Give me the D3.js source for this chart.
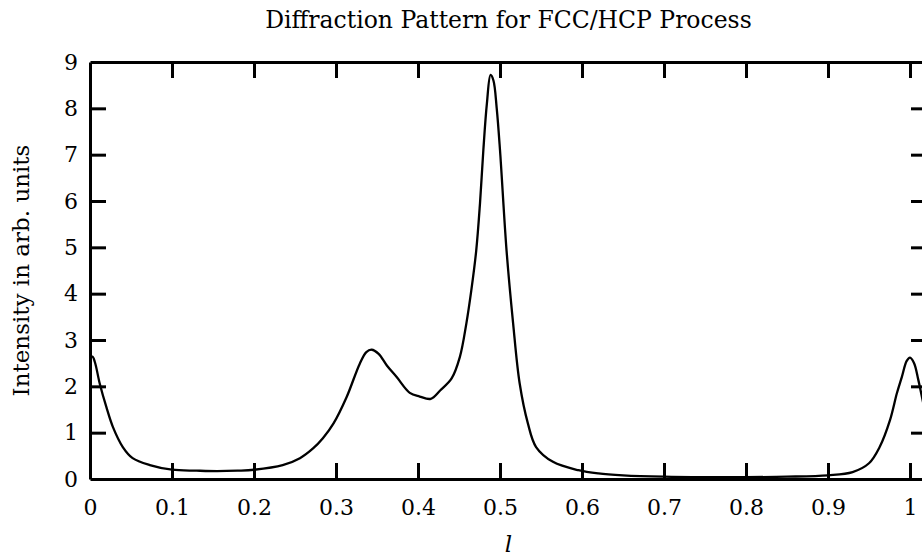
<!DOCTYPE html>
<html lang="en">
  <head>
    <meta charset="UTF-8" />
    <title>Diffraction Pattern</title>
    <style>
      body { margin: 0; background: #fff; }
      svg text { font-family: "DejaVu Serif", serif; fill: #000; }
    </style>
  </head>
  <body>
    <div id="chart"></div>

    <script src="https://d3js.org/d3.v7.min.js"></script>
    <script>

    // values: l and intensity
    var lValues = [0, 0.003, 0.006, 0.012, 0.02, 0.028, 0.04, 0.052, 0.073, 0.1,
      0.13, 0.155, 0.18, 0.2, 0.235, 0.256, 0.272, 0.284, 0.297, 0.313,
      0.329, 0.337, 0.3435, 0.352, 0.362, 0.374, 0.39, 0.402, 0.4155, 0.427,
      0.441, 0.451, 0.459, 0.465, 0.471, 0.4756, 0.4797, 0.484, 0.4885, 0.492,
      0.496, 0.5, 0.508, 0.516, 0.524, 0.534, 0.544, 0.5646, 0.5955, 0.62,
      0.65, 0.7, 0.75, 0.8, 0.85, 0.9, 0.93, 0.95, 0.963, 0.9756,
      0.984, 0.99, 0.996, 1.0, 1.005, 1.01, 1.016];
    var intensity = [2.6, 2.64, 2.52, 2.05, 1.55, 1.12, 0.69, 0.45, 0.3, 0.2,
      0.18, 0.17, 0.18, 0.2, 0.3, 0.45, 0.66, 0.88, 1.2, 1.77,
      2.49, 2.74, 2.79, 2.7, 2.45, 2.2, 1.86, 1.78, 1.73, 1.91,
      2.17, 2.63, 3.36, 4.07, 4.93, 5.95, 7.1, 8.1, 8.72, 8.6,
      8.0, 7.1, 4.93, 3.36, 2.06, 1.2, 0.69, 0.37, 0.19, 0.12,
      0.08, 0.05, 0.04, 0.04, 0.05, 0.08, 0.15, 0.34, 0.69, 1.27,
      1.85, 2.2, 2.55, 2.62, 2.5, 2.15, 1.65];

    var xTicks = [0, 0.1, 0.2, 0.3, 0.4, 0.5, 0.6, 0.7, 0.8, 0.9, 1];
    var yTicks = [0, 1, 2, 3, 4, 5, 6, 7, 8, 9];

    var title = "Diffraction Pattern for FCC/HCP Process";
    var xLabel = "l";
    var yLabel = "Intensity in arb. units";

    var w = 922, h = 558;
    // frame edges (right edge sits just outside the picture)
    var x0 = 90, x1 = 927, y0 = 62, y1 = 479;

    var data = lValues.map(function(d, i) { return { l: d, v: intensity[i] }; });

    var svg = d3.select("#chart").append("svg")
      .attr("width", w)
      .attr("height", h);

    var xScale = d3.scaleLinear()
      .domain([0, (x1 - x0) / 820])
      .range([x0, x1]);

    var yScale = d3.scaleLinear()
      .domain([0, 9])
      .range([y1, y0]);

    // curve, clipped to the frame
    svg.append("clipPath").attr("id", "clip")
      .append("rect")
      .attr("x", x0).attr("y", y0)
      .attr("width", x1 - x0).attr("height", y1 - y0);

    var line = d3.line()
      .x(function(d) { return xScale(d.l); })
      .y(function(d) { return yScale(d.v); })
      .curve(d3.curveCatmullRom.alpha(0.5));

    svg.append("path")
      .datum(data)
      .attr("clip-path", "url(#clip)")
      .attr("d", line)
      .attr("fill", "none")
      .attr("stroke", "#000")
      .attr("stroke-width", 2.3);

    var fmt = function(d) { return String(d); };

    // frame: four axes with inward ticks
    var xBottom = d3.axisBottom(xScale).tickValues(xTicks).tickFormat(fmt)
      .tickSizeInner(-16).tickSizeOuter(0).tickPadding(20);
    var xTop = d3.axisTop(xScale).tickValues(xTicks).tickFormat("")
      .tickSizeInner(-16).tickSizeOuter(0);
    var yLeft = d3.axisLeft(yScale).tickValues(yTicks).tickFormat(fmt)
      .tickSizeInner(-16).tickSizeOuter(0).tickPadding(12);
    var yRight = d3.axisRight(yScale).tickValues(yTicks).tickFormat("")
      .tickSizeInner(-16).tickSizeOuter(0);

    var gb = svg.append("g").attr("transform", "translate(0," + y1 + ")").call(xBottom);
    var gt = svg.append("g").attr("transform", "translate(0," + y0 + ")").call(xTop);
    var gl = svg.append("g").attr("transform", "translate(" + x0 + ",0)").call(yLeft);
    var gr = svg.append("g").attr("transform", "translate(" + x1 + ",0)").call(yRight);

    [gb, gt, gl, gr].forEach(function(g) {
      g.select(".domain").attr("stroke", "#000").attr("stroke-width", 3);
      g.selectAll(".tick line").attr("stroke", "#000").attr("stroke-width", 3);
      g.selectAll(".tick text")
        .style("font-family", "'DejaVu Serif', serif")
        .style("font-size", "22px")
        .attr("fill", "#000");
    });
    // no tick marks at the corners
    gb.selectAll(".tick line").filter(function(d) { return d === 0; }).remove();
    gt.selectAll(".tick line").filter(function(d) { return d === 0; }).remove();
    gl.selectAll(".tick line").filter(function(d) { return d === 0 || d === 9; }).remove();
    gr.selectAll(".tick line").filter(function(d) { return d === 0 || d === 9; }).remove();

    // titles
    svg.append("text")
      .attr("x", (x0 + x1) / 2)
      .attr("y", 28)
      .attr("text-anchor", "middle")
      .style("font-size", "23.5px")
      .text(title);

    svg.append("text")
      .attr("x", (x0 + x1) / 2)
      .attr("y", 552)
      .attr("text-anchor", "middle")
      .style("font-size", "23px")
      .style("font-style", "italic")
      .text(xLabel);

    svg.append("text")
      .attr("transform", "translate(29," + ((y0 + y1) / 2) + ") rotate(-90)")
      .attr("text-anchor", "middle")
      .style("font-size", "23px")
      .text(yLabel);

    </script>
  </body>
</html>
